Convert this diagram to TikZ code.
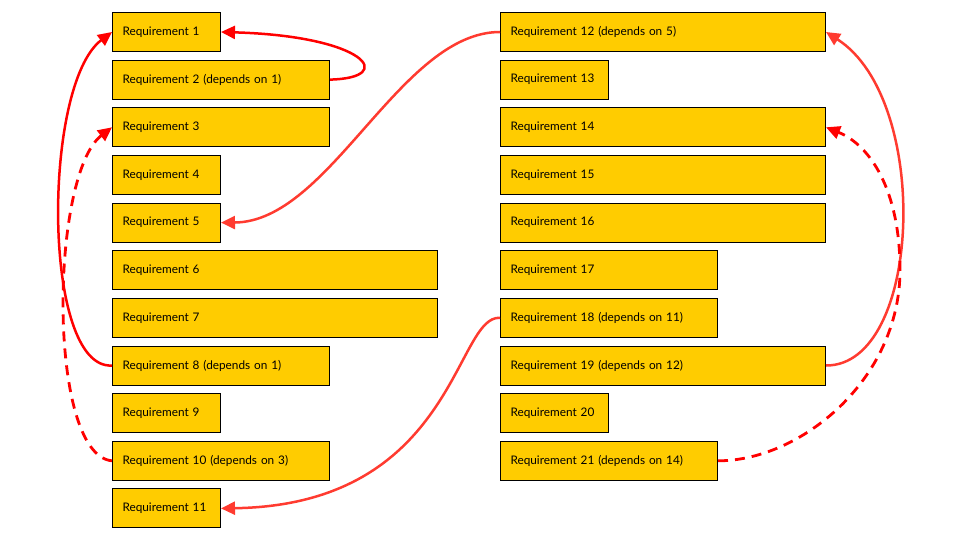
\documentclass[tikz,border=0pt]{standalone}
\usepackage{fontspec}
\setmainfont{Lato}
\usetikzlibrary{arrows.meta}
\definecolor{boxgold}{HTML}{FFCC00}
\definecolor{pured}{HTML}{FF0000}
\definecolor{orred}{HTML}{FF3B30}
\tikzset{
  req/.style={draw=black, line width=1pt, fill=boxgold, anchor=north west,
    minimum height=39pt, inner xsep=10pt, inner ysep=0pt, align=left,
    font=\fontsize{11.8}{13}\selectfont, text=black},
  shortbox/.style={req, text width=88pt},
  medbox/.style={req, text width=197pt},
  longbox/.style={req, text width=305pt},
  dep/.style={line width=2.5pt, -{Triangle[length=14pt,width=13pt]}},
  deprd/.style={dep, draw=pured},
  depor/.style={dep, draw=orred},
  dashdep/.style={deprd, line width=2.8pt, dash pattern=on 10pt off 7pt},
}
\begin{document}
\begin{tikzpicture}[x=1pt,y=-1pt]
\useasboundingbox (0,0) rectangle (960,540);
% left column
\node[shortbox] (r1)  at (112,12.0)  {Requirement 1};
\node[medbox]   (r2)  at (112,59.6)  {Requirement 2 (depends on 1)};
\node[medbox]   (r3)  at (112,107.3) {Requirement 3};
\node[shortbox] (r4)  at (112,154.9) {Requirement 4};
\node[shortbox] (r5)  at (112,202.6) {Requirement 5};
\node[longbox]  (r6)  at (112,250.2) {Requirement 6};
\node[longbox]  (r7)  at (112,297.8) {Requirement 7};
\node[medbox]   (r8)  at (112,345.5) {Requirement 8 (depends on 1)};
\node[shortbox] (r9)  at (112,393.1) {Requirement 9};
\node[medbox]   (r10) at (112,440.8) {Requirement 10 (depends on 3)};
\node[shortbox] (r11) at (112,488.4) {Requirement 11};
% right column
\node[longbox]  (r12) at (500,12.0)  {Requirement 12 (depends on 5)};
\node[shortbox] (r13) at (500,59.6)  {Requirement 13};
\node[longbox]  (r14) at (500,107.3) {Requirement 14};
\node[longbox]  (r15) at (500,154.9) {Requirement 15};
\node[longbox]  (r16) at (500,202.6) {Requirement 16};
\node[medbox]   (r17) at (500,250.2) {Requirement 17};
\node[medbox]   (r18) at (500,297.8) {Requirement 18 (depends on 11)};
\node[longbox]  (r19) at (500,345.5) {Requirement 19 (depends on 12)};
\node[shortbox] (r20) at (500,393.1) {Requirement 20};
\node[medbox]   (r21) at (500,440.8) {Requirement 21 (depends on 14)};
% connectors
\draw[deprd] (r2.east) .. controls (398,78) and (366,36) .. (r1.east);
\draw[deprd] (r8.west) .. controls (42,370) and (42,85) .. (r1.west);
\draw[dashdep] (r10.west) .. controls (47,455) and (50,175) .. (r3.west);
\draw[depor] (r12.west) .. controls (400,32) and (330,222) .. (r5.east);
\draw[depor] (r18.west) .. controls (455,315) and (455,505) .. (r11.east);
\draw[depor] (r19.east) .. controls (922,366) and (932,100) .. (r12.east);
\coordinate (c21) at (900,270);
\draw[dashdep] (r21.east) .. controls (800,461) and (900,380) .. (c21)
  .. controls (900,190) and (870,145) .. (r14.east);
\end{tikzpicture}
\end{document}
